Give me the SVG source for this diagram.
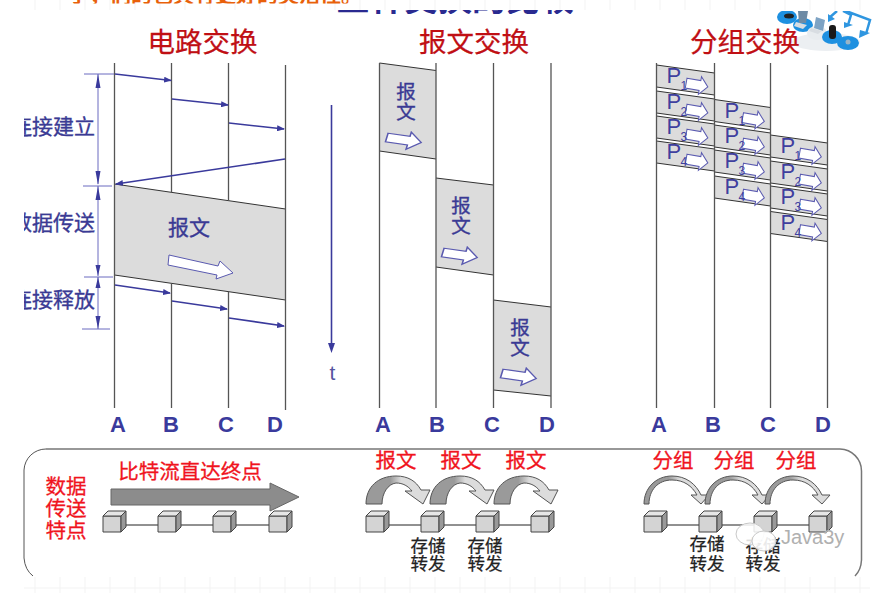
<svg xmlns="http://www.w3.org/2000/svg" xmlns:xlink="http://www.w3.org/1999/xlink" width="884" height="593" viewBox="0 0 884 593">
<style>
text{font-family:"Noto Sans CJK SC","Liberation Sans",sans-serif}
.title{font-size:27.5px;fill:#c00f14;text-anchor:middle;stroke:#c00f14;stroke-width:.25}
.nav{font-size:21px;fill:#3a3a94;stroke:#3a3a94;stroke-width:.35}
.nav2{font-size:19.5px;fill:#3a3a94;stroke:#3a3a94;stroke-width:.35;text-anchor:middle}
.lab{font-family:"Liberation Sans",sans-serif;font-size:22px;font-weight:bold;fill:#3a3a9c;text-anchor:middle}
.red{font-size:20.5px;fill:#f0141e;text-anchor:middle;stroke:#f0141e;stroke-width:.3}
.blk{font-size:17.5px;fill:#222;text-anchor:middle;stroke:#222;stroke-width:.25}
.v{stroke:#555;stroke-width:1.3;fill:none}
.ar{stroke:#3a3a9c;stroke-width:1.6;fill:none;marker-end:url(#tri)}
.dim{stroke:#6a6ac0;stroke-width:1;fill:none}
.grid{stroke:#f3f3f3;stroke-width:1}
.blk2{fill:#dcdcdc;stroke:none}
.edge{stroke:#333;stroke-width:1;fill:none}
.p{font-family:"Liberation Sans",sans-serif;font-size:22px;fill:#3f3f9f}
.s{font-family:"Liberation Sans",sans-serif;font-size:12px;fill:#3f3f9f}
</style>
<defs>
<marker id="tri" markerWidth="8" markerHeight="6" refX="7" refY="3" orient="auto" markerUnits="userSpaceOnUse"><path d="M0,0L8,3L0,6Z" fill="#3a3a9c"/></marker>
<path id="hollowS" d="M-11,-4H3V-8L11,0L3,8V4H-11Z" fill="#fff" stroke="#5a5ab0" stroke-width="1"/>
<path id="hollowP" d="M-11,-5H3V-9L11,0L3,9V5H-11Z" fill="#fff" stroke="#5a5ab0" stroke-width="1"/>
<g id="cube"><path d="M0,0H18V16H0Z" fill="#d4d4d4" stroke="#444"/><path d="M0,0L5,-5H23L18,0Z" fill="#e6e6e6" stroke="#444"/><path d="M18,0L23,-5V11L18,16Z" fill="#999" stroke="#444"/></g>
<linearGradient id="gr" x1="0" y1="0" x2="1" y2="0"><stop offset="0.38" stop-color="#9a9a9a"/><stop offset="0.55" stop-color="#dcdcdc"/></linearGradient>
<path id="fat" d="M0,504C0,487 12,476 30,476C42,476 50,481 55,490H64L57,504L39,491H46C42,486 37,483 30,483C22,484 16,493 16,504Z" fill="url(#gr)" stroke="#555" stroke-width="1"/>
<path id="thin" d="M0,504C0,488 12,476 28,476C42,476 52,484 57,495H65L57,504L47,495H53C48,486 40,480 28,480C14,480 5,490 5,504Z" fill="url(#gr)" stroke="#555" stroke-width="1"/>
<clipPath id="lc"><rect x="24" y="100" width="100" height="220"/></clipPath>
<clipPath id="tc"><rect x="60" y="0" width="300" height="3.5"/></clipPath>
<clipPath id="tn"><rect x="330" y="10" width="260" height="4"/></clipPath>
<clipPath id="ic"><rect x="770" y="11" width="114" height="60"/></clipPath>
</defs>
<rect width="884" height="593" fill="#fff"/>
<g id="bg-grid"><path class="grid" d="M35,0V10M60,0V10M85,0V10M110,0V10M135,0V10M160,0V10M185,0V10M210,0V10M235,0V10M260,0V10M285,0V10M310,0V10M335,0V10M360,0V10M385,0V10M410,0V10M435,0V10M460,0V10M485,0V10M510,0V10M535,0V10M560,0V10M585,0V10M610,0V10M635,0V10M660,0V10M685,0V10M710,0V10M735,0V10M760,0V10M785,0V10M810,0V10M835,0V10M860,0V10M24,588H870M35,577V593M60,577V593M85,577V593M110,577V593M135,577V593M160,577V593M185,577V593M210,577V593M235,577V593M260,577V593M285,577V593M310,577V593M335,577V593M360,577V593M385,577V593M410,577V593M435,577V593M460,577V593M485,577V593M510,577V593M535,577V593M560,577V593M585,577V593M610,577V593M635,577V593M660,577V593M685,577V593M710,577V593M735,577V593M760,577V593M785,577V593M810,577V593M835,577V593M860,577V593"/></g>
<g id="cropped-heading"><text clip-path="url(#tc)" x="68" y="2" style="font-size:21px;font-weight:bold;fill:#e8600a">于，们的也具有更好的灵活性。</text><text clip-path="url(#tn)" x="336" y="11" style="font-size:34px;font-weight:bold;fill:#2a2a90">三种交换的比较</text></g>
<g id="icon" clip-path="url(#ic)">
<ellipse cx="826" cy="42" rx="34" ry="9" fill="#eceff2"/>
<ellipse cx="787" cy="17" rx="10" ry="7" fill="#1e90e0"/><ellipse cx="789" cy="16" rx="5" ry="2.500" fill="#222"/>
<ellipse cx="803" cy="25" rx="10" ry="7" fill="#1e90e0"/><path d="M798,11H808L806,23H799Z" fill="#6e8ba5"/><path d="M796,22L807,25L803,29L794,26Z" fill="#d8dde2"/>
<ellipse cx="817" cy="33" rx="10" ry="7" fill="#e8ecef"/><path d="M816,17L825,20L823,31L814,28Z" fill="#7ea3c4"/><path d="M811,28L822,31L818,34L809,31Z" fill="#d8dde2"/>
<ellipse cx="832" cy="37" rx="10" ry="7" fill="#1e90e0"/><rect x="829" y="25" width="7" height="14" rx="3" fill="#1a1a1a"/>
<ellipse cx="848" cy="43" rx="11" ry="7" fill="#1e90e0"/><circle cx="848" cy="42" r="2.500" fill="#9ab4c6"/>
<path d="M837,11L829,18M843,11L851,15L848,25M846,11L870,20L866,34" fill="none" stroke="#2f96e0" stroke-width="2.500"/>
<path d="M828,22L828,14L835,19ZM844,28L844,22L853,25ZM859,38L860,30L870,33Z" fill="#2f96e0"/>
</g>
<text class="title" x="202.500" y="52">电路交换</text>
<text class="title" x="474" y="52">报文交换</text>
<text class="title" x="745" y="52">分组交换</text>
<g id="circuit">
<polygon class="blk2" points="114.5,184 285.5,209 285.5,300 114.5,275"/>
<path class="edge" d="M114.5,184L285.5,209M114.5,275L285.5,300"/>
<path class="v" d="M114.5,63V408M171.5,63V192.500M171.5,283.500V408M228.5,63V201M228.5,292V408M285.5,65V410"/>
<path d="M169,255L218,266L220,261L233,273L216,279L217,275L168,265Z" fill="#fff" stroke="#5a5ab0"/>
<text class="nav" x="189" y="235" text-anchor="middle">报文</text>
</g>
<g id="connectors">
<path class="ar" d="M115,74L171,80.5"/><path class="ar" d="M172,99L228,105"/><path class="ar" d="M229,123L284,129"/><path class="ar" d="M285,159L116,184"/>
<path class="ar" d="M115,285L170,293"/><path class="ar" d="M172,301L227,309"/><path class="ar" d="M229,318L284,326"/>
<path d="M331.5,105V345" stroke="#3a3a9c" stroke-width="1.6"/><path d="M328,343L331.5,353L335,343Z" fill="#3a3a9c"/>
<path class="dim" d="M84,74H114M83,186H112M84,277H113M82,329H110M98,74V184M98,186V276M98,277V329"/>
<path d="M95.5,88L98,74L100.5,88ZM95.5,171L98,185L100.5,171ZM95.5,200L98,186L100.5,200ZM95.5,265L98,276L100.5,265ZM95.5,288L98,277L100.5,288ZM95.5,316L98,329L100.5,316Z" fill="#3a3a9c"/>
</g>
<g id="side-labels"><g clip-path="url(#lc)"><text class="nav" x="11" y="134">连接建立</text><text class="nav" x="11" y="230">数据传送</text><text class="nav" x="11" y="307">连接释放</text></g>
<text x="332.500" y="380" text-anchor="middle" style="font-family:'Liberation Sans',sans-serif;font-size:21px;fill:#55559f">t</text></g>
<g id="abcd-1"><text class="lab" x="118" y="432">A</text><text class="lab" x="171" y="432">B</text><text class="lab" x="226" y="432">C</text><text class="lab" x="275" y="432">D</text></g>
<g id="message">
<polygon class="blk2" points="379.5,63 436,70.5 436,159 379.5,151"/>
<polygon class="blk2" points="436,178 493.5,185 493.5,275 436,267"/>
<polygon class="blk2" points="493.5,300 551,307 551,396 493.5,390"/>
<path class="edge" d="M379.5,63L436,70.5M379.5,151L436,159M436,178L493.5,185M436,267L493.5,275M493.5,300L551,307M493.5,390L551,396"/>
<path class="v" d="M379.5,63V408M436,63V408M493.5,63V408M551,63V408"/>
<text class="nav2"><tspan x="406" y="99">报</tspan><tspan x="406" y="119">文</tspan></text>
<text class="nav2"><tspan x="461" y="213">报</tspan><tspan x="461" y="233">文</tspan></text>
<text class="nav2"><tspan x="520" y="335">报</tspan><tspan x="520" y="355">文</tspan></text>
<use xlink:href="#hollowS" href="#hollowS" transform="translate(404,140) scale(1.6,1.1) rotate(12)"/>
<use xlink:href="#hollowS" href="#hollowS" transform="translate(460,255) scale(1.6,1.1) rotate(12)"/>
<use xlink:href="#hollowS" href="#hollowS" transform="translate(519,376) scale(1.6,1.1) rotate(12)"/>
</g>
<g id="abcd-2"><text class="lab" x="383" y="432">A</text><text class="lab" x="437" y="432">B</text><text class="lab" x="492" y="432">C</text><text class="lab" x="547" y="432">D</text></g>
<g id="packet">
<g id="pa">
<g transform="translate(656.5,65)"><path class="blk2" d="M0,0L58,8V30L0,22Z"/><path class="edge" d="M0,0L58,8M0,22L58,30"/><use href="#hollowP" xlink:href="#hollowP" transform="translate(40.500,20) rotate(10)"/><text class="p" x="10" y="18">P</text><text class="s" x="24" y="25">1</text></g>
<g transform="translate(656.5,91)"><path class="blk2" d="M0,0L58,8V30L0,22Z"/><path class="edge" d="M0,0L58,8M0,22L58,30"/><use href="#hollowP" xlink:href="#hollowP" transform="translate(40.500,20) rotate(10)"/><text class="p" x="10" y="18">P</text><text class="s" x="24" y="25">2</text></g>
<g transform="translate(656.5,116)"><path class="blk2" d="M0,0L58,8V30L0,22Z"/><path class="edge" d="M0,0L58,8M0,22L58,30"/><use href="#hollowP" xlink:href="#hollowP" transform="translate(40.500,20) rotate(10)"/><text class="p" x="10" y="18">P</text><text class="s" x="24" y="25">3</text></g>
<g transform="translate(656.5,141)"><path class="blk2" d="M0,0L58,8V30L0,22Z"/><path class="edge" d="M0,0L58,8M0,22L58,30"/><use href="#hollowP" xlink:href="#hollowP" transform="translate(40.500,20) rotate(10)"/><text class="p" x="10" y="18">P</text><text class="s" x="24" y="25">4</text></g>
</g>
<g id="pb">
<g transform="translate(714.5,99.5)"><path class="blk2" d="M0,0L56,8V30L0,22Z"/><path class="edge" d="M0,0L56,8M0,22L56,30"/><use href="#hollowP" xlink:href="#hollowP" transform="translate(39,20) rotate(10)"/><text class="p" x="10" y="18">P</text><text class="s" x="24" y="25">1</text></g>
<g transform="translate(714.5,125)"><path class="blk2" d="M0,0L56,8V30L0,22Z"/><path class="edge" d="M0,0L56,8M0,22L56,30"/><use href="#hollowP" xlink:href="#hollowP" transform="translate(39,20) rotate(10)"/><text class="p" x="10" y="18">P</text><text class="s" x="24" y="25">2</text></g>
<g transform="translate(714.5,150)"><path class="blk2" d="M0,0L56,8V30L0,22Z"/><path class="edge" d="M0,0L56,8M0,22L56,30"/><use href="#hollowP" xlink:href="#hollowP" transform="translate(39,20) rotate(10)"/><text class="p" x="10" y="18">P</text><text class="s" x="24" y="25">3</text></g>
<g transform="translate(714.5,176)"><path class="blk2" d="M0,0L56,8V30L0,22Z"/><path class="edge" d="M0,0L56,8M0,22L56,30"/><use href="#hollowP" xlink:href="#hollowP" transform="translate(39,20) rotate(10)"/><text class="p" x="10" y="18">P</text><text class="s" x="24" y="25">4</text></g>
</g>
<g id="pc">
<g transform="translate(770.5,135)"><path class="blk2" d="M0,0L57,8V30L0,22Z"/><path class="edge" d="M0,0L57,8M0,22L57,30"/><use href="#hollowP" xlink:href="#hollowP" transform="translate(40,20) rotate(10)"/><text class="p" x="10" y="18">P</text><text class="s" x="24" y="25">1</text></g>
<g transform="translate(770.5,161)"><path class="blk2" d="M0,0L57,8V30L0,22Z"/><path class="edge" d="M0,0L57,8M0,22L57,30"/><use href="#hollowP" xlink:href="#hollowP" transform="translate(40,20) rotate(10)"/><text class="p" x="10" y="18">P</text><text class="s" x="24" y="25">2</text></g>
<g transform="translate(770.5,186)"><path class="blk2" d="M0,0L57,8V30L0,22Z"/><path class="edge" d="M0,0L57,8M0,22L57,30"/><use href="#hollowP" xlink:href="#hollowP" transform="translate(40,20) rotate(10)"/><text class="p" x="10" y="18">P</text><text class="s" x="24" y="25">3</text></g>
<g transform="translate(770.5,211.5)"><path class="blk2" d="M0,0L57,8V30L0,22Z"/><path class="edge" d="M0,0L57,8M0,22L57,30"/><use href="#hollowP" xlink:href="#hollowP" transform="translate(40,20) rotate(10)"/><text class="p" x="10" y="18">P</text><text class="s" x="24" y="25">4</text></g>
</g>
<path class="v" d="M656.5,63V408M714.5,63V408M770.5,63V408M827.5,65V408"/>
</g>
<g id="abcd-3"><text class="lab" x="659" y="432">A</text><text class="lab" x="713" y="432">B</text><text class="lab" x="768" y="432">C</text><text class="lab" x="823" y="432">D</text></g>
<g id="panel">
<path d="M46,449H840A22,22 0 0 1 861.500,471V560Q861,570 855,576" fill="none" stroke="#777" stroke-width="1.5"/>
<path d="M24,470A22,22 0 0 1 46,449M24,470V558Q25,570 33,576" fill="none" stroke="#555" stroke-width="1"/>
</g>
<g id="feature-label"><text class="red" text-anchor="middle"><tspan x="66" y="494">数据</tspan><tspan x="66" y="516">传送</tspan><tspan x="66" y="538">特点</tspan></text></g>
<g id="row-circuit">
<text class="red" x="190" y="479">比特流直达终点</text>
<path d="M111,489H270V483L299,497L270,511V505H111Z" fill="#8c8c8c" stroke="#666"/>
<path d="M112,525H280" stroke="#222"/>
<use href="#cube" xlink:href="#cube" x="103" y="516"/><use href="#cube" xlink:href="#cube" x="158" y="516"/><use href="#cube" xlink:href="#cube" x="213" y="516"/><use href="#cube" xlink:href="#cube" x="269" y="516"/>
</g>
<g id="row-message">
<text class="red" x="396" y="468">报文</text><text class="red" x="461" y="468">报文</text><text class="red" x="526" y="468">报文</text>
<use href="#fat" xlink:href="#fat" x="366"/><use href="#fat" xlink:href="#fat" x="430"/><use href="#fat" xlink:href="#fat" x="494"/>
<path d="M375,525H540" stroke="#222"/>
<use href="#cube" xlink:href="#cube" x="366" y="516"/><use href="#cube" xlink:href="#cube" x="421" y="516"/><use href="#cube" xlink:href="#cube" x="476" y="516"/><use href="#cube" xlink:href="#cube" x="531" y="516"/>
<text class="blk"><tspan x="428" y="552">存储</tspan><tspan x="428" y="570">转发</tspan></text><text class="blk"><tspan x="485" y="552">存储</tspan><tspan x="485" y="570">转发</tspan></text>
</g>
<g id="row-packet">
<text class="red" x="673" y="468">分组</text><text class="red" x="734" y="468">分组</text><text class="red" x="796" y="468">分组</text>
<use href="#thin" xlink:href="#thin" x="644"/><use href="#thin" xlink:href="#thin" x="705"/><use href="#thin" xlink:href="#thin" x="765"/>
<path d="M653,525H818" stroke="#222"/>
<use href="#cube" xlink:href="#cube" x="644" y="516"/><use href="#cube" xlink:href="#cube" x="699" y="516"/><use href="#cube" xlink:href="#cube" x="754" y="516"/><use href="#cube" xlink:href="#cube" x="809" y="516"/>
<text class="blk"><tspan x="707" y="550">存储</tspan><tspan x="707" y="570">转发</tspan></text><text class="blk"><tspan x="763" y="552">存储</tspan><tspan x="763" y="570">转发</tspan></text>
</g>
<g id="watermark">
<ellipse cx="750" cy="534" rx="14" ry="11" fill="#fff" fill-opacity="0.85" stroke="#c8c8c8"/>
<ellipse cx="764" cy="541" rx="12" ry="10" fill="#fff" fill-opacity="0.9" stroke="#c8c8c8"/>
<text x="781" y="544" style="font-family:'Liberation Sans',sans-serif;font-size:20px;fill:#b0b0b0">Java3y</text>
</g>
</svg>
